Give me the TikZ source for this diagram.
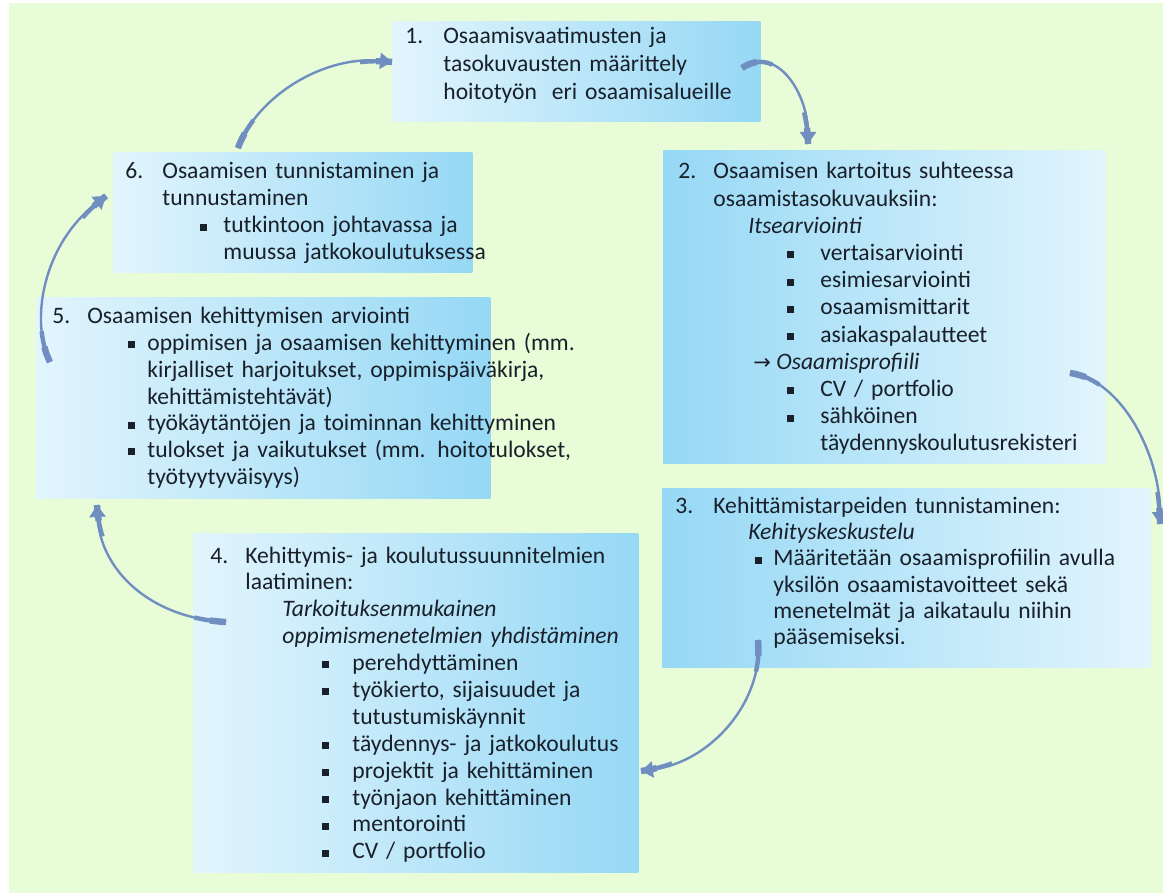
\documentclass[tikz,border=0pt]{standalone}
\usepackage{fontspec}
\setmainfont{Carlito}
\newfontfamily\symf{DejaVu Sans}
\usetikzlibrary{arrows.meta}
\setlength\parindent{0pt}
\definecolor{bggreen}{RGB}{232,252,216}
\definecolor{boxlight}{RGB}{226,245,253}
\definecolor{boxdark}{RGB}{150,216,245}
\definecolor{txt}{RGB}{25,32,42}
\definecolor{arr}{RGB}{112,142,192}
\newcommand\bq[2]{\hspace*{#1}\makebox[#2][l]{\rule[1.1pt]{3.5pt}{3.5pt}}}
\newcommand\ind[1]{\hspace*{#1}}
\newcommand\cycarrow[4]{%
  \draw[cyc] (#1) .. controls #2 and #3 .. (#4);
  \draw[cycmid] (#1) .. controls #2 and #3 .. (#4);
  \draw[cycmid] (#4) .. controls #3 and #2 .. (#1);
  \draw[cycend] (#1) .. controls #2 and #3 .. (#4);
  \draw[cycend] (#4) .. controls #3 and #2 .. (#1);}
\begin{document}
\begin{tikzpicture}[x=0.5pt,y=-0.5pt,
  boxlr/.style={inner sep=0pt, anchor=north west, left color=boxlight, right color=boxdark, draw=none},
  boxrl/.style={inner sep=0pt, anchor=north west, left color=boxdark, right color=boxlight, draw=none},
  txtblk/.style={inner sep=0pt, anchor=base west, text width=300pt, align=left, text=txt},
  cyc/.style={draw=arr, line width=1.2pt, -{Triangle[length=6pt,width=8pt]}},
  cycmid/.style={draw=arr, line width=2.2pt, dash pattern=on 16pt off 2000pt},
  cycend/.style={draw=arr, line width=3.2pt, dash pattern=on 8pt off 2000pt}]
\useasboundingbox (0,0) rectangle (1163,893);
\fill[white] (0,0) rectangle (1163,893);
\fill[bggreen] (9,3) rectangle (1163,893);

% boxes
\node[boxlr, minimum width=184pt, minimum height=50pt] (b1) at (392,21) {};
\node[boxlr, minimum width=179.5pt, minimum height=60pt] (b6) at (113,152) {};
\node[boxlr, minimum width=227pt, minimum height=100.5pt] (b5) at (36,297) {};
\node[boxrl, minimum width=221pt, minimum height=156.5pt] (b2) at (663,150) {};
\node[boxrl, minimum width=244pt, minimum height=89.5pt] (b3) at (662,488) {};
\node[boxlr, minimum width=222.5pt, minimum height=169.5pt] (b4) at (193,533) {};

% texts
\node[txtblk, font=\fontsize{11.8}{14}\selectfont] (t1) at (405,44) {%
\makebox[19pt][l]{1.}Osaamisvaatimusten ja\\
\ind{19pt}tasokuvausten määrittely\\
\ind{19pt}hoitotyön\hspace{0.3em} eri osaamisalueille};

\node[txtblk, font=\fontsize{11.8}{13.5}\selectfont] (t6) at (125,179) {%
\makebox[18.5pt][l]{6.}Osaamisen tunnistaminen ja\\
\ind{18.5pt}tunnustaminen\\
\bq{37.5pt}{11.5pt}tutkintoon johtavassa ja\\
\ind{49pt}muussa jatkokoulutuksessa};

\node[txtblk, font=\fontsize{11.8}{13.35}\selectfont] (t5) at (52,324) {%
\makebox[17.5pt][l]{5.}Osaamisen kehittymisen arviointi\\
\bq{38pt}{9.5pt}oppimisen ja osaamisen kehittyminen (mm.\\
\ind{47.5pt}kirjalliset harjoitukset, oppimispäiväkirja,\\
\ind{47.5pt}kehittämistehtävät)\\
\bq{38pt}{9.5pt}työkäytäntöjen ja toiminnan kehittyminen\\
\bq{38pt}{9.5pt}tulokset ja vaikutukset (mm. hoitotulokset,\\
\ind{47.5pt}työtyytyväisyys)};

\node[txtblk, font=\fontsize{11.8}{13.6}\selectfont] (t2) at (678,179) {%
\makebox[17.5pt][l]{2.}Osaamisen kartoitus suhteessa\\
\ind{17.5pt}osaamistasokuvauksiin:\\
\ind{35pt}\textit{Itsearviointi}\\
\bq{54.5pt}{16.5pt}vertaisarviointi\\
\bq{54.5pt}{16.5pt}esimiesarviointi\\
\bq{54.5pt}{16.5pt}osaamismittarit\\
\bq{54.5pt}{16.5pt}asiakaspalautteet\\
\ind{37.5pt}\makebox[11.5pt][l]{{\symf\fontsize{10.5}{10}\selectfont →}}\textit{Osaamisprofiili}\\
\bq{54.5pt}{16.5pt}CV / portfolio\\
\bq{54.5pt}{16.5pt}sähköinen\\
\ind{71pt}täydennyskoulutusrekisteri};

\node[txtblk, font=\fontsize{11.8}{13.2}\selectfont] (t3) at (675,513) {%
\makebox[19pt][l]{3.}Kehittämistarpeiden tunnistaminen:\\
\ind{36.5pt}\textit{Kehityskeskustelu}\\
\bq{40pt}{9pt}Määritetään osaamisprofiilin avulla\\
\ind{49pt}yksilön osaamistavoitteet sekä\\
\ind{49pt}menetelmät ja aikataulu niihin\\
\ind{49pt}pääsemiseksi.};

\node[txtblk, font=\fontsize{11.8}{13.45}\selectfont] (t4) at (210,563) {%
\makebox[17.5pt][l]{4.}Kehittymis- ja koulutussuunnitelmien\\
\ind{17.5pt}laatiminen:\\
\ind{36pt}\textit{Tarkoituksenmukainen}\\
\ind{36pt}\textit{oppimismenetelmien yhdistäminen}\\
\bq{56pt}{15pt}perehdyttäminen\\
\bq{56pt}{15pt}työkierto, sijaisuudet ja\\
\ind{71pt}tutustumiskäynnit\\
\bq{56pt}{15pt}täydennys- ja jatkokoulutus\\
\bq{56pt}{15pt}projektit ja kehittäminen\\
\bq{56pt}{15pt}työnjaon kehittäminen\\
\bq{56pt}{15pt}mentorointi\\
\bq{56pt}{15pt}CV / portfolio};

% arrow end points
\coordinate (a12s) at (742,68);  \coordinate (a12e) at (808,144);
\coordinate (a23s) at (1070,373); \coordinate (a23e) at (1160,524);
\coordinate (a34s) at (758,640); \coordinate (a34e) at (641,771);
\coordinate (a45s) at (226,622); \coordinate (a45e) at (97,505);
\coordinate (a56s) at (50,362);  \coordinate (a56e) at (106,196);
\coordinate (a61s) at (238,148); \coordinate (a61e) at (392,62);

\cycarrow{a12s}{(778,44)}{(808,95)}{a12e}
\cycarrow{a23s}{(1122,380)}{(1160,455)}{a23e}
\cycarrow{a34s}{(764,700)}{(712,762)}{a34e}
\cycarrow{a45s}{(150,618)}{(100,570)}{a45e}
\cycarrow{a56s}{(30,322)}{(42,245)}{a56e}
\cycarrow{a61s}{(256,98)}{(322,55)}{a61e}
\end{tikzpicture}
\end{document}
